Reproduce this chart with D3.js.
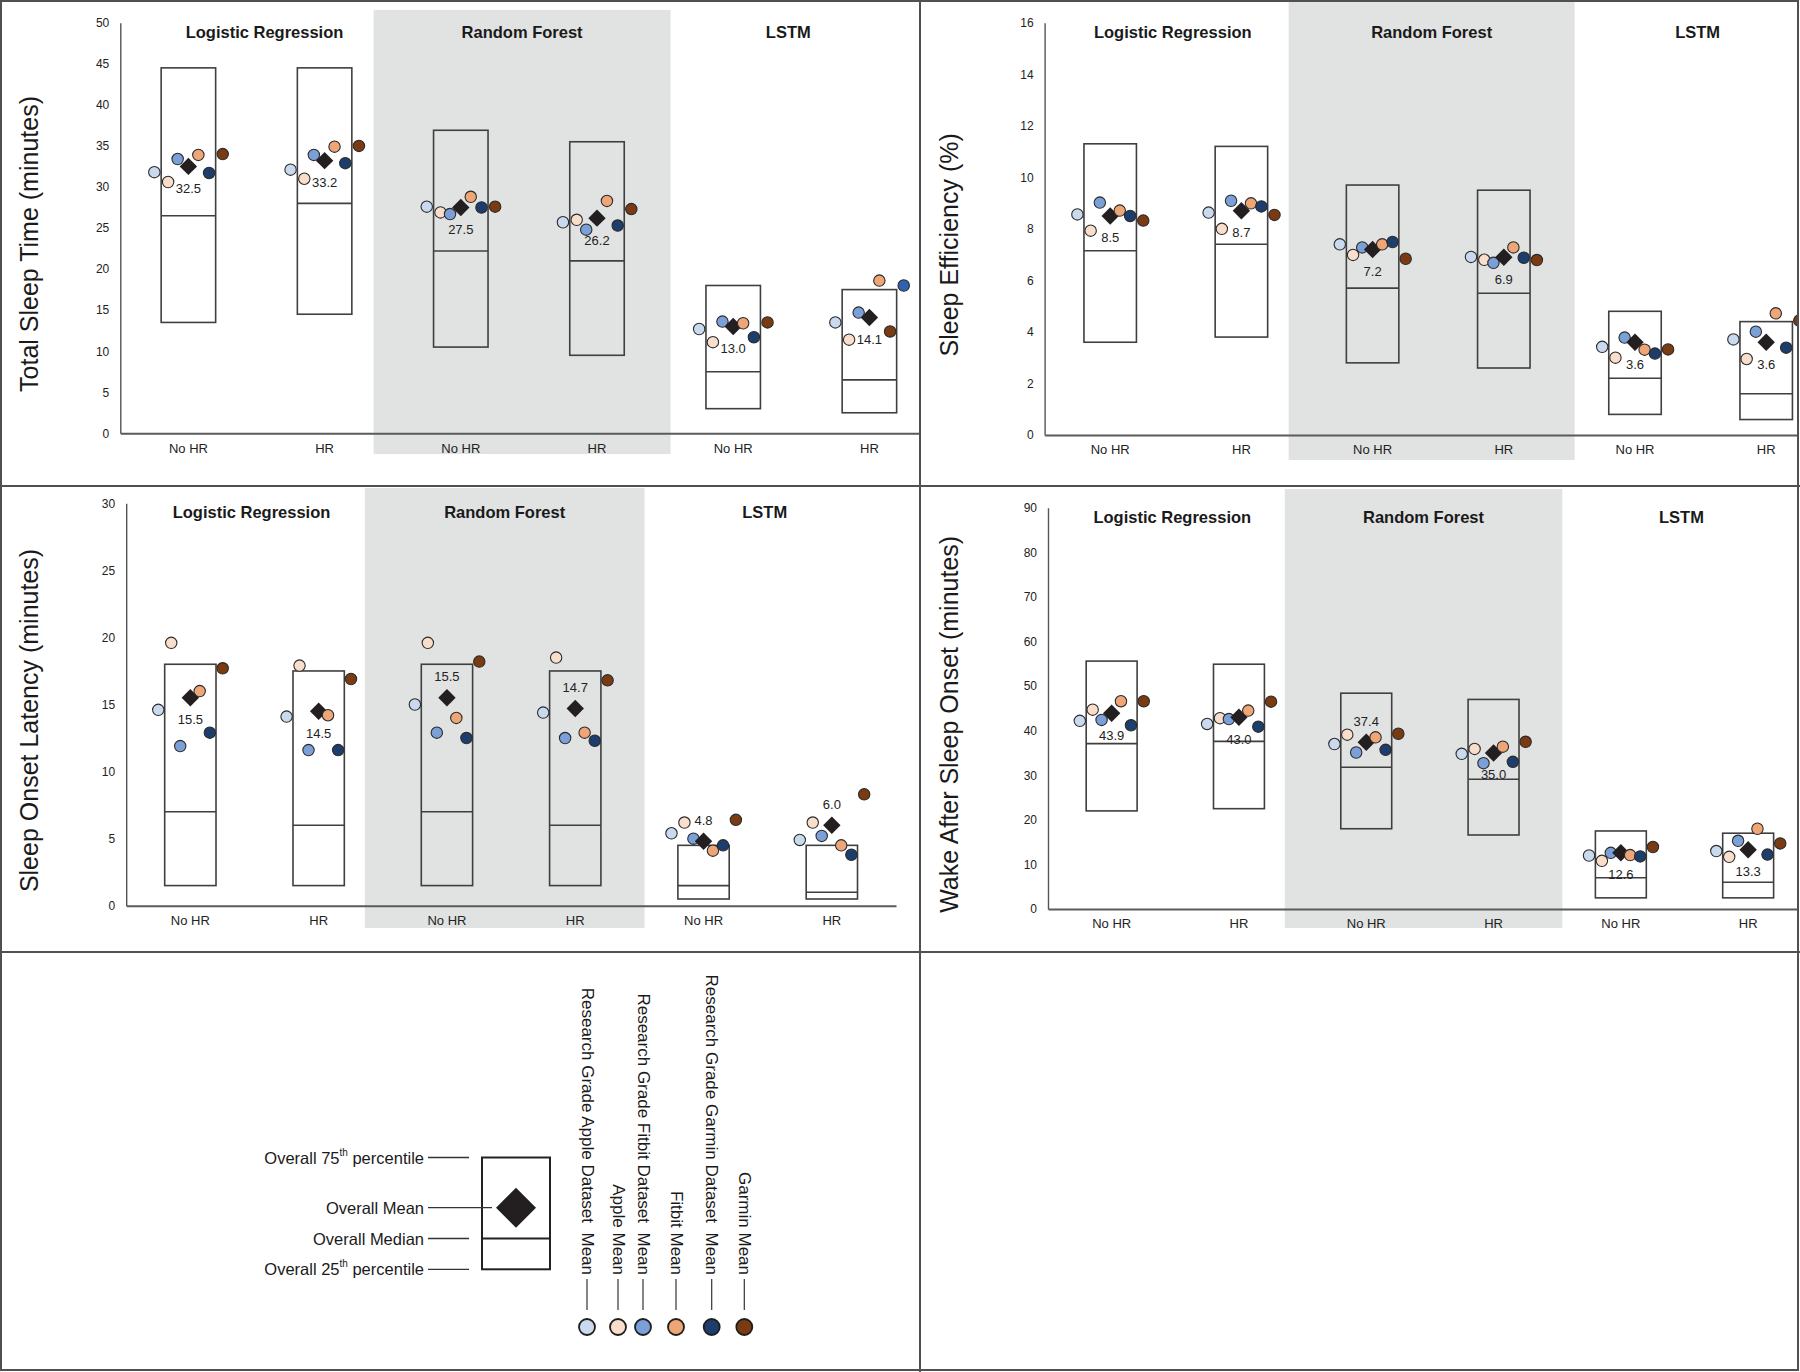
<!DOCTYPE html>
<html>
<head>
<meta charset="utf-8">
<script src="https://cdn.jsdelivr.net/npm/d3@7"></script>
<style>
    body { margin: 0; background: #fff; }
    svg { display: block; font-family: "Liberation Sans", Arial, Helvetica, sans-serif; }
</style>
</head>
<body>
<svg id="chart" width="1800" height="1372"></svg>
<script>
// ---- data ----
var models = ["Logistic Regression", "Random Forest", "LSTM"];
var hrLabels = ["No HR", "HR"];
var seriesNames = ["Research Grade Apple Dataset  Mean", "Apple Mean", "Research Grade Fitbit Dataset  Mean",
    "Fitbit Mean", "Research Grade Garmin Dataset  Mean", "Garmin Mean"];
var seriesColors = ["#c9d9ee", "#f9dfcb", "#7b9fd7", "#eea677", "#1d3e6d", "#7a3b12"];

// Total Sleep Time (minutes), one entry per model x HR column
var tstMean = [32.5, 33.2, 27.5, 26.2, 13.0, 14.1];
var tstP75 = [44.5, 44.5, 36.9, 35.5, 18.0, 17.5];
var tstMedian = [26.5, 28.0, 22.2, 21.0, 7.5, 6.5];
var tstP25 = [13.5, 14.5, 10.5, 9.5, 3.0, 2.5];
var tstDots = [
    [31.8, 30.6, 33.4, 33.9, 31.7, 34.0],
    [32.1, 31.0, 33.9, 34.9, 32.9, 35.0],
    [27.6, 26.9, 26.7, 28.8, 27.5, 27.6],
    [25.7, 26.0, 24.8, 28.3, 25.3, 27.3],
    [12.7, 11.1, 13.6, 13.4, 11.7, 13.5],
    [13.5, 11.4, 14.7, 18.6, 12.4, 18.0]
];

// Sleep Efficiency (%)
var seMean = [8.5, 8.7, 7.2, 6.9, 3.6, 3.6];
var seP75 = [11.3, 11.2, 9.7, 9.5, 4.8, 4.4];
var seMedian = [7.15, 7.4, 5.7, 5.5, 2.2, 1.6];
var seP25 = [3.6, 3.8, 2.8, 2.6, 0.8, 0.6];
var seDots = [
    [8.56, 7.93, 9.02, 8.71, 8.5, 8.32],
    [8.63, 8.0, 9.09, 8.99, 8.87, 8.54],
    [7.4, 6.99, 7.28, 7.4, 7.49, 6.84],
    [6.91, 6.8, 6.68, 7.28, 6.88, 6.79],
    [3.42, 3.0, 3.78, 3.31, 3.16, 3.32],
    [3.71, 2.95, 4.01, 4.72, 3.39, 4.44]
];

// Sleep Onset Latency (minutes)
var solMean = [15.5, 14.5, 15.5, 14.7, 4.8, 6.0];
var solP75 = [18.0, 17.5, 18.0, 17.5, 4.5, 4.5];
var solMedian = [7.0, 6.0, 7.0, 6.0, 1.5, 1.0];
var solP25 = [1.5, 1.5, 1.5, 1.5, 0.5, 0.5];
var solDots = [
    [14.6, 19.6, 11.9, 16.0, 12.9, 17.7],
    [14.1, 17.9, 11.6, 14.2, 11.6, 16.9],
    [15.0, 19.6, 12.9, 14.0, 12.5, 18.2],
    [14.4, 18.5, 12.5, 12.9, 12.3, 16.8],
    [5.4, 6.2, 5.0, 4.1, 4.5, 6.4],
    [4.9, 6.2, 5.2, 4.5, 3.8, 8.3]
];

// Wake After Sleep Onset (minutes)
var wasoMean = [43.9, 43.0, 37.4, 35.0, 12.6, 13.3];
var wasoP75 = [55.6, 54.9, 48.4, 47.0, 17.5, 17.0];
var wasoMedian = [37.1, 37.6, 31.8, 29.1, 7.0, 6.0];
var wasoP25 = [22.0, 22.5, 18.0, 16.6, 2.5, 2.5];
var wasoDots = [
    [42.2, 44.7, 42.4, 46.6, 41.2, 46.6],
    [41.5, 42.8, 42.6, 44.5, 40.9, 46.5],
    [37.0, 39.1, 35.1, 38.5, 35.7, 39.3],
    [34.8, 35.9, 32.7, 36.4, 33.0, 37.5],
    [12.0, 10.8, 12.6, 12.1, 11.8, 13.9],
    [13.0, 11.7, 15.3, 18.0, 12.2, 14.7]
];

// ---- layout ----
var panels = [
    {title: "Total Sleep Time (minutes)", max: 50, tick: 5, cell: [0, 0, 920, 486],
        axisX: 120.3, step: 136.2, yTop: 22.7, yBottom: 433.3, band: [10, 454], titleNudge: [11, 0, -10],
        mean: tstMean, p75: tstP75, median: tstMedian, p25: tstP25, dots: tstDots,
        above: [], overrides: [{col: 5, s: 4, color: "#7a3b12"}, {col: 5, s: 5, color: "#2f63ae"}]},
    {title: "Sleep Efficiency (%)", max: 16, tick: 2, cell: [920, 0, 1798, 486],
        axisX: 1044.6, step: 131.2, yTop: 22.7, yBottom: 435, band: [2, 460], titleNudge: [0, 0, 0],
        mean: seMean, p75: seP75, median: seMedian, p25: seP25, dots: seDots,
        above: [], overrides: []},
    {title: "Sleep Onset Latency (minutes)", max: 30, tick: 5, cell: [0, 486, 920, 952],
        axisX: 126.2, step: 128.3, yTop: 503.3, yBottom: 905.7, band: [488, 928], titleNudge: [0, 0, 0],
        mean: solMean, p75: solP75, median: solMedian, p25: solP25, dots: solDots,
        above: [2, 3, 4, 5], overrides: []},
    {title: "Wake After Sleep Onset (minutes)", max: 90, tick: 10, cell: [920, 486, 1798, 952],
        axisX: 1048, step: 127.3, yTop: 507.7, yBottom: 909, band: [489, 928], titleNudge: [0, 0, 0],
        mean: wasoMean, p75: wasoP75, median: wasoMedian, p25: wasoP25, dots: wasoDots,
        above: [2], overrides: []}
];

var dotOffsets = [-0.25, -0.149, -0.079, 0.073, 0.152, 0.252];
var dotR = 5.7;

var svg = d3.select("#chart");
svg.append("rect").attr("width", 1800).attr("height", 1372).attr("fill", "#fff");

function diamond(h) {
    return "M0," + (-h) + "L" + h + ",0L0," + h + "L" + (-h) + ",0Z";
}

panels.forEach(function (p, pi) {
    var c = p.cell;
    svg.append("clipPath").attr("id", "clip" + pi)
        .append("rect")
        .attr("x", c[0]).attr("y", c[1])
        .attr("width", c[2] - c[0]).attr("height", c[3] - c[1]);
    var g = svg.append("g").attr("clip-path", "url(#clip" + pi + ")");

    var x = d3.scaleBand().domain(d3.range(6)).range([p.axisX, p.axisX + 6 * p.step]);
    var cx = function (i) { return x(i) + x.bandwidth() / 2; };
    var y = d3.scaleLinear().domain([0, p.max]).range([p.yBottom, p.yTop]);

    // grey band behind Random Forest
    var bandL = cx(2) - 0.64 * p.step, bandR = cx(3) + 0.54 * p.step;
    g.append("rect")
        .attr("x", bandL).attr("y", p.band[0])
        .attr("width", bandR - bandL).attr("height", p.band[1] - p.band[0])
        .attr("fill", "#e1e2e2");

    // model titles
    var titleX = [(cx(0) + cx(1)) / 2 - 3, (bandL + bandR) / 2, (cx(4) + cx(5)) / 2 - 3];
    g.selectAll(".model").data(models).enter().append("text")
        .attr("x", function (d, i) { return titleX[i] + p.titleNudge[i]; })
        .attr("y", p.yTop + 15)
        .attr("text-anchor", "middle")
        .attr("font-size", 16.5).attr("font-weight", "bold").attr("fill", "#1a1a1a")
        .text(function (d) { return d; });

    // y axis
    var yAxis = g.append("g").attr("transform", "translate(" + p.axisX + ",0)")
        .call(d3.axisLeft(y).tickValues(d3.range(0, p.max + 0.01, p.tick)).tickSize(0).tickPadding(11));
    yAxis.select(".domain").attr("stroke", "#555").attr("stroke-width", 1.4);
    yAxis.selectAll("text").attr("font-size", 12).attr("fill", "#222").attr("font-family", null);

    // x axis
    var xAxis = g.append("g").attr("transform", "translate(0," + p.yBottom + ")")
        .call(d3.axisBottom(x).tickFormat(function (i) { return hrLabels[i % 2]; }).tickSize(0).tickPadding(10));
    xAxis.select(".domain").attr("stroke", "#5a5a5a").attr("stroke-width", 2);
    xAxis.selectAll("text").attr("font-size", 13).attr("fill", "#222").attr("font-family", null);

    // y title
    g.append("text")
        .attr("transform", "translate(" + (c[0] + 29) + "," + ((p.yTop + p.yBottom) / 2 + 16) + ") rotate(-90)")
        .attr("text-anchor", "middle").attr("dominant-baseline", "central")
        .attr("font-size", 25).attr("fill", "#1a1a1a")
        .text(p.title);

    var bw = 0.4 * p.step;
    d3.range(6).forEach(function (i) {
        var col = g.append("g");
        col.append("rect")
            .attr("x", cx(i) - bw / 2)
            .attr("y", y(p.p75[i]))
            .attr("width", bw).attr("height", y(p.p25[i]) - y(p.p75[i]))
            .attr("fill", "none").attr("stroke", "#3f3f3f").attr("stroke-width", 1.6);
        col.append("line")
            .attr("x1", cx(i) - bw / 2).attr("x2", cx(i) + bw / 2)
            .attr("y1", y(p.median[i])).attr("y2", y(p.median[i]))
            .attr("stroke", "#3f3f3f").attr("stroke-width", 1.6);

        var pts = p.dots[i].map(function (v, s) {
            var fill = seriesColors[s];
            p.overrides.forEach(function (o) { if (o.col === i && o.s === s) fill = o.color; });
            return {v: v, s: s, fill: fill};
        });
        function drawDots(list) {
            list.forEach(function (d) {
                col.append("circle")
                    .attr("cx", cx(i) + dotOffsets[d.s] * p.step)
                    .attr("cy", y(d.v))
                    .attr("r", dotR)
                    .attr("fill", d.fill)
                    .attr("stroke", "#2b2b2b").attr("stroke-width", 1.1);
            });
        }
        drawDots(pts.slice(0, 3));
        col.append("path")
            .attr("d", diamond(8.7))
            .attr("transform", "translate(" + cx(i) + "," + y(p.mean[i]) + ")")
            .attr("fill", "#231f20");
        drawDots(pts.slice(3));

        var isAbove = p.above.indexOf(i) >= 0;
        col.append("text")
            .attr("x", cx(i))
            .attr("y", y(p.mean[i]) + (isAbove ? -16.5 : 26.5))
            .attr("text-anchor", "middle")
            .attr("font-size", 13).attr("fill", "#222")
            .text(p.mean[i].toFixed(1));
    });
});

// ---- legend ----
var lg = svg.append("g");
var boxL = 482, boxR = 550;
var legendRows = [
    {y: 1157.5, main: "Overall 75", sup: "th", rest: " percentile", lineEnd: 469},
    {y: 1207.7, main: "Overall Mean", sup: "", rest: "", lineEnd: 492},
    {y: 1238.5, main: "Overall Median", sup: "", rest: "", lineEnd: 469},
    {y: 1269.3, main: "Overall 25", sup: "th", rest: " percentile", lineEnd: 469}
];
lg.append("rect")
    .attr("x", boxL).attr("y", 1157.5)
    .attr("width", boxR - boxL).attr("height", 1269.3 - 1157.5)
    .attr("fill", "none").attr("stroke", "#222").attr("stroke-width", 2);
lg.append("line")
    .attr("x1", boxL).attr("x2", boxR).attr("y1", 1238.5).attr("y2", 1238.5)
    .attr("stroke", "#222").attr("stroke-width", 2);
lg.append("path").attr("d", diamond(20))
    .attr("transform", "translate(516,1207.7)").attr("fill", "#231f20");
legendRows.forEach(function (r) {
    lg.append("line")
        .attr("x1", 428).attr("x2", r.lineEnd).attr("y1", r.y).attr("y2", r.y)
        .attr("stroke", "#333").attr("stroke-width", 1.3);
    var t = lg.append("text")
        .attr("x", 424).attr("y", r.y)
        .attr("text-anchor", "end").attr("dominant-baseline", "central")
        .attr("font-size", 16.5).attr("fill", "#1a1a1a");
    t.append("tspan").text(r.main);
    if (r.sup) {
        t.append("tspan").attr("font-size", 10).attr("dy", -6).text(r.sup);
        t.append("tspan").attr("dy", 6).text(r.rest);
    }
});

var legendX = [587, 618, 643, 676, 711.7, 744.3];
seriesNames.forEach(function (name, s) {
    lg.append("text")
        .attr("transform", "translate(" + legendX[s] + ",1275) rotate(90)")
        .attr("text-anchor", "end").attr("dominant-baseline", "central")
        .attr("font-size", 17).attr("fill", "#1a1a1a")
        .style("white-space", "pre")
        .text(name);
    lg.append("line")
        .attr("x1", legendX[s]).attr("x2", legendX[s]).attr("y1", 1279).attr("y2", 1310)
        .attr("stroke", "#333").attr("stroke-width", 1.2);
    lg.append("circle")
        .attr("cx", legendX[s]).attr("cy", 1327)
        .attr("r", 8)
        .attr("fill", seriesColors[s])
        .attr("stroke", "#1e1e1e").attr("stroke-width", 1.8);
});

// ---- table grid ----
var grid = svg.append("g").attr("stroke", "#505050").attr("stroke-width", 2).attr("fill", "none");
grid.append("rect").attr("x", 1).attr("y", 1).attr("width", 1797).attr("height", 1369);
grid.append("line").attr("x1", 920).attr("x2", 920).attr("y1", 0).attr("y2", 1372);
grid.append("line").attr("x1", 0).attr("x2", 1800).attr("y1", 486).attr("y2", 486);
grid.append("line").attr("x1", 0).attr("x2", 1800).attr("y1", 952).attr("y2", 952);
</script>
</body>
</html>
